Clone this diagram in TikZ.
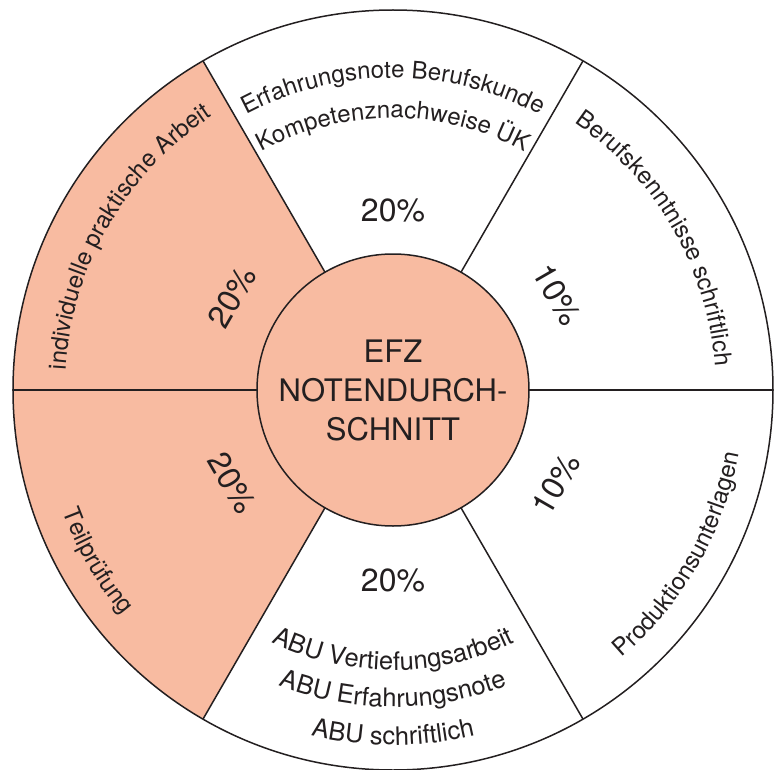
\documentclass[tikz,border=0pt]{standalone}
\usepackage{fontspec}
\setmainfont{TeX Gyre Heros}
\usetikzlibrary{decorations.text}
\definecolor{salmon}{RGB}{248,187,161}
\definecolor{ink}{RGB}{35,31,32}
\tikzset{
  arclabel/.style={decorate, decoration={text along path, text={|\fontsize{24}{24}\selectfont\color{ink}|#1}, text align=center}},
  arclabelbig/.style={decorate, decoration={text along path, text={|\fontsize{25.5}{25.5}\selectfont\color{ink}|#1}, text align=center}},
  pct/.style={font=\fontsize{32}{32}\selectfont, text=ink, inner sep=0pt},
  rim/.style={draw=ink, line width=1.5pt},
}
\begin{document}
\begin{tikzpicture}[x=1pt,y=1pt]
\useasboundingbox (-393,-379) rectangle (381,390);
% filled sectors
\fill[salmon] (0,0) -- (120:380) arc[start angle=120, end angle=240, radius=380] -- cycle;
% outer circle
\node[circle, rim, minimum size=760pt, inner sep=0pt, outer sep=0pt] (o) at (0,0) {};
% centre
\node[circle, rim, fill=salmon, minimum size=272pt, inner sep=0pt, outer sep=0pt, align=center, text=ink,
      font=\fontsize{31}{39}\selectfont] (c) at (0,0) {EFZ\\NOTENDURCH-\\SCHNITT};
% spokes
\foreach \a in {0,60,120,180,240,300} \draw[rim] (c.\a) -- (o.\a);
% percentages
\node[pct] (p90) at (90:180) {20\%};
\node[pct, rotate=-60] (p30) at (30:190) {10\%};
\node[pct, rotate=60] (p150) at (150:186) {20\%};
\node[pct, rotate=-60] (p210) at (210:186) {20\%};
\node[pct, rotate=60] (p330) at (330:188) {10\%};
\node[pct] (p270) at (270:190) {20\%};
% arc labels (top half: clockwise, bottom half: counter-clockwise)
\path[arclabel={Erfahrungsnote Berufskunde}] (135:312) arc[start angle=135, end angle=45, radius=312];
\path[arclabel={Kompetenznachweise ÜK}] (135:272) arc[start angle=135, end angle=45, radius=272];
\path[arclabel={Berufskenntnisse schriftlich}] (80:323) arc[start angle=80, end angle=-20, radius=323];
\path[arclabel={individuelle praktische Arbeit}] (200:328) arc[start angle=200, end angle=100, radius=328];
\path[arclabel={Teilprüfung}] (170:352) arc[start angle=170, end angle=250, radius=352];
\path[arclabel={Produktionsunterlagen}] (280:352) arc[start angle=280, end angle=380, radius=352];
\path[arclabelbig={ABU Vertiefungsarbeit}] (225:280) arc[start angle=225, end angle=315, radius=280];
\path[arclabelbig={ABU Erfahrungsnote}] (225:317) arc[start angle=225, end angle=315, radius=317];
\path[arclabelbig={ABU schriftlich}] (225:355) arc[start angle=225, end angle=315, radius=355];
\end{tikzpicture}
\end{document}
